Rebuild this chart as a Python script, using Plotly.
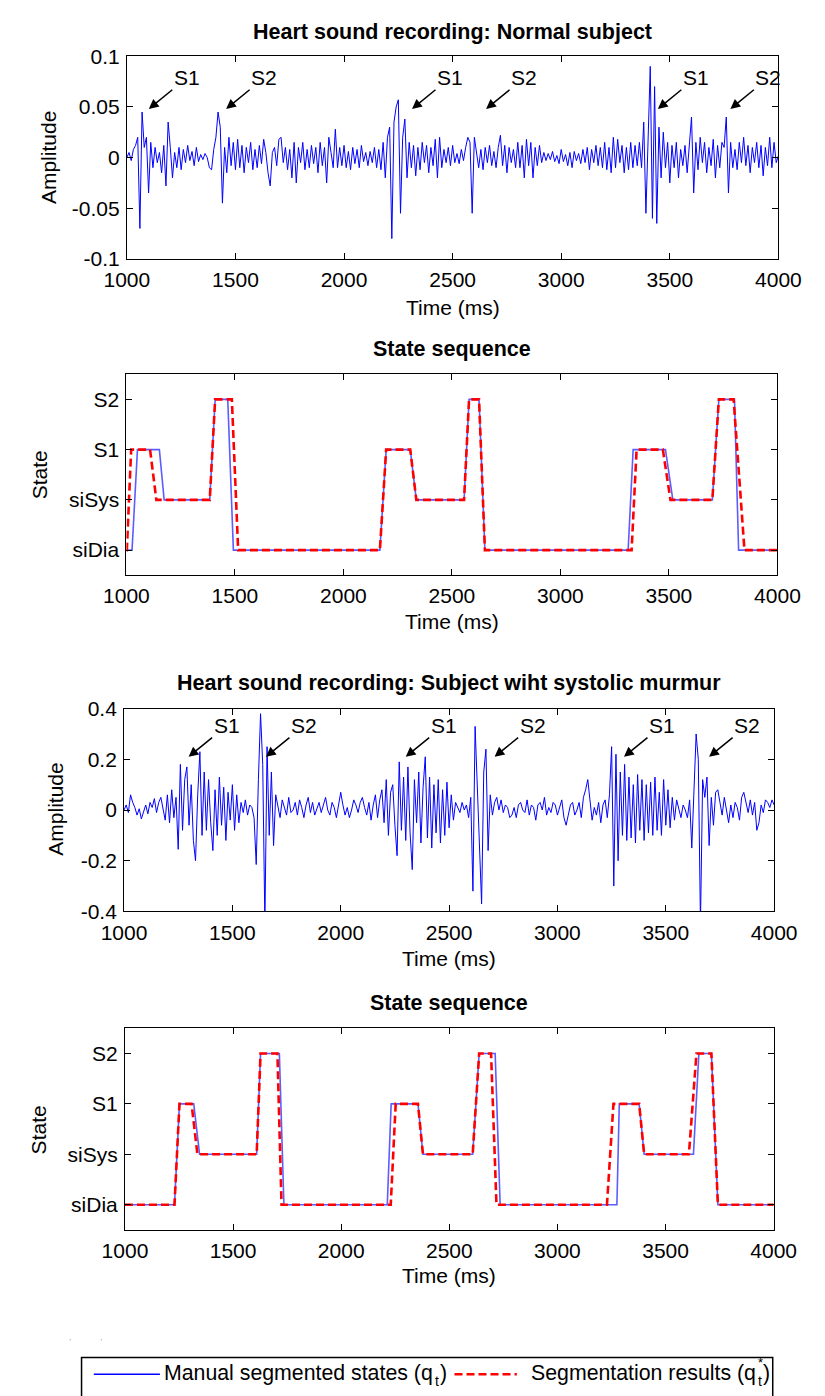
import numpy as np
import plotly.graph_objects as go

# ---------------- data ----------------
# Heart sound recording, normal subject (amplitude, 10 ms steps from 1000 ms)
amp_normal = [
    0.000, 0.005, -0.003, 0.008, 0.012, 0.020, -0.070, 0.045, 0.010, 0.020,
    -0.035, 0.015, -0.010, 0.010, -0.005, 0.005, -0.015, 0.012, -0.028, 0.035,
    0.010, -0.020, 0.005, -0.010, 0.010, -0.012, 0.008, -0.005, 0.012, -0.003,
    0.006, -0.008, 0.010, -0.004, 0.003, -0.002, 0.004, 0.000, -0.010, -0.012,
    0.008, 0.020, 0.045, 0.030, -0.045, 0.010, -0.015, 0.020, -0.008, 0.015,
    -0.012, 0.018, -0.010, 0.012, -0.015, 0.010, -0.005, 0.015, -0.012, 0.008,
    -0.010, 0.012, -0.006, 0.018, 0.005, -0.015, -0.028, 0.005, 0.010, -0.008,
    0.018, 0.020, -0.005, 0.010, -0.012, 0.008, -0.020, 0.015, -0.025, 0.010,
    -0.005, 0.015, -0.012, 0.008, -0.010, 0.012, -0.006, 0.010, -0.015, 0.015,
    -0.008, 0.010, -0.025, 0.020, 0.005, -0.010, 0.028, -0.010, 0.010, -0.008,
    0.012, -0.010, 0.006, -0.012, 0.010, -0.006, 0.008, -0.010, 0.012, -0.004,
    0.005, -0.008, 0.006, -0.005, 0.010, -0.010, 0.008, -0.012, 0.015, -0.020,
    0.020, 0.030, -0.080, 0.035, 0.050, 0.057, -0.055, 0.020, 0.038, -0.020,
    0.015, -0.010, 0.012, -0.018, 0.010, -0.012, 0.015, -0.005, 0.012, -0.015,
    0.010, -0.008, 0.018, -0.020, 0.020, -0.010, 0.008, -0.005, 0.010, -0.008,
    0.012, -0.005, 0.004, -0.006, 0.008, -0.003, 0.010, 0.020, 0.015, -0.055,
    0.020, 0.005, -0.010, 0.008, -0.012, 0.010, -0.005, 0.012, -0.008, 0.006,
    -0.010, 0.010, 0.022, -0.008, 0.012, -0.015, 0.010, -0.005, 0.008, -0.010,
    0.015, -0.010, 0.012, -0.020, 0.018, -0.008, 0.015, -0.020, 0.010, -0.008,
    0.012, -0.005, 0.005, -0.003, 0.004, -0.002, 0.006, -0.004, 0.002, -0.006,
    0.008, -0.004, 0.003, -0.008, 0.005, -0.010, 0.006, -0.003, 0.004, -0.006,
    0.008, -0.005, 0.010, -0.012, 0.008, -0.005, 0.012, -0.008, 0.010, -0.010,
    0.015, -0.012, 0.010, -0.015, 0.020, -0.010, 0.018, -0.005, 0.012, -0.015,
    0.010, -0.012, 0.015, -0.010, 0.012, -0.008, 0.015, -0.010, 0.035, -0.055,
    0.025, 0.090, -0.060, 0.070, -0.065, 0.030, -0.020, 0.025, -0.010, 0.015,
    -0.025, 0.012, -0.010, 0.015, -0.020, 0.008, -0.008, 0.012, -0.015, 0.010,
    0.040, -0.035, 0.015, -0.012, 0.020, -0.005, 0.015, -0.015, 0.010, -0.008,
    0.018, -0.020, 0.012, -0.010, 0.015, 0.010, 0.040, -0.035, 0.015, -0.010,
    0.008, -0.012, 0.015, -0.005, 0.020, -0.008, 0.012, -0.015, 0.010, -0.005,
    0.015, -0.010, 0.012, -0.018, 0.010, -0.008, 0.020, -0.010, 0.015, -0.005,
    0.002,
]

# Heart sound recording, subject with systolic murmur (10 ms steps from 1000 ms)
amp_murmur = [
    0.000, 0.020, -0.010, 0.060, 0.030, 0.010, -0.020, 0.005, -0.035, -0.010,
    0.020, -0.015, 0.030, 0.010, 0.045, -0.010, 0.030, 0.050, 0.000, -0.040,
    0.060, -0.050, 0.080, -0.030, 0.050, -0.155, 0.180, -0.080, 0.120, 0.170,
    -0.060, 0.100, -0.120, -0.200, 0.060, 0.230, -0.100, 0.150, -0.080, 0.120,
    -0.050, -0.160, 0.080, -0.100, 0.130, -0.060, 0.090, -0.120, 0.070, -0.040,
    0.100, -0.080, 0.060, -0.050, 0.030, -0.010, 0.040, -0.020, 0.020, 0.010,
    -0.030, -0.215, 0.120, 0.380, 0.180, -0.450, 0.250, -0.100, 0.150, -0.140,
    0.060, 0.020, -0.030, 0.040, 0.010, -0.020, 0.050, -0.010, 0.000, 0.030,
    -0.020, 0.040, 0.010, -0.030, 0.020, 0.050, -0.010, 0.030, -0.020, 0.010,
    0.030, -0.010, 0.020, 0.050, 0.000, -0.020, 0.030, 0.010, -0.030, 0.020,
    0.070, 0.020, -0.020, 0.010, -0.030, 0.000, 0.040, 0.020, -0.010, 0.030,
    0.050, 0.010, -0.020, 0.030, -0.040, 0.020, 0.060, -0.030, 0.040, 0.080,
    -0.050, 0.120, -0.100, 0.070, 0.100, -0.060, -0.180, 0.190, -0.080, 0.130,
    -0.120, 0.170, -0.090, -0.235, 0.120, -0.050, 0.150, -0.130, 0.090, 0.210,
    -0.110, 0.130, -0.150, 0.100, -0.090, 0.120, -0.130, 0.080, -0.100, 0.110,
    -0.070, 0.060, -0.040, 0.030, 0.010, -0.010, 0.030, 0.000, 0.020, -0.030,
    0.050, -0.320, 0.330, 0.080, -0.100, -0.370, 0.150, 0.240, -0.160, 0.060,
    -0.020, 0.030, 0.050, 0.000, 0.040, -0.010, 0.020, 0.010, -0.030, -0.020,
    0.010, -0.030, 0.020, 0.030, 0.000, -0.010, 0.040, -0.020, 0.020, 0.010,
    -0.040, 0.020, 0.030, 0.000, 0.050, -0.020, 0.010, -0.010, 0.030, 0.020,
    -0.020, 0.010, 0.040, -0.030, -0.060, -0.020, 0.020, 0.030, -0.020, 0.000,
    0.030, -0.030, 0.050, 0.080, 0.120, 0.040, -0.040, 0.010, -0.020, 0.030,
    -0.050, 0.020, 0.040, -0.030, 0.060, 0.250, -0.300, 0.220, -0.200, 0.150,
    -0.100, 0.180, -0.120, 0.130, -0.110, 0.100, -0.130, 0.140, -0.080, 0.120,
    -0.120, 0.100, -0.090, 0.110, -0.100, 0.130, -0.080, 0.070, -0.100, 0.120,
    -0.060, 0.080, -0.070, 0.050, -0.040, 0.040, 0.010, -0.030, 0.020, 0.000,
    -0.030, 0.040, -0.150, 0.100, 0.300, 0.200, -0.450, 0.120, 0.050, 0.130,
    -0.140, 0.050, -0.060, 0.070, 0.080, 0.030, -0.020, 0.050, 0.000, -0.050,
    0.020, -0.030, 0.030, 0.010, -0.040, 0.050, 0.070, 0.030, -0.010, 0.040,
    -0.020, 0.030, -0.080, -0.050, 0.020, -0.010, 0.040, 0.030, 0.010, 0.040,
    0.020,
]
time_normal = 1000 + 10 * np.arange(len(amp_normal))
time_murmur = 1000 + 10 * np.arange(len(amp_murmur))

# State codes: 1 = siDia, 2 = siSys, 3 = S1, 4 = S2
state_ticks = [1, 2, 3, 4]
state_labels = ["siDia", "siSys", "S1", "S2"]

# Normal subject: manual segmentation (breakpoints)
man_n_t = [1000, 1026, 1051, 1152, 1174, 1384, 1409, 1467, 1493, 2168, 2197, 2308, 2336,
           2556, 2579, 2625, 2652, 3312, 3335, 3484, 3518, 3700, 3730, 3802, 3821, 4000]
man_n_s = [1, 1, 3, 3, 2, 2, 4, 4, 1, 1, 3, 3, 2, 2, 4, 4, 1, 1, 3, 3, 2, 2, 4, 4, 1, 1]
# Normal subject: segmentation results
seg_n_t = [1000, 1002, 1022, 1109, 1138, 1384, 1409, 1486, 1515, 2168, 2197, 2308, 2336,
           2556, 2579, 2625, 2652, 3328, 3351, 3472, 3507, 3700, 3730, 3798, 3848, 4000]
seg_n_s = [1, 1, 3, 3, 2, 2, 4, 4, 1, 1, 3, 3, 2, 2, 4, 4, 1, 1, 3, 3, 2, 2, 4, 4, 1, 1]

# Murmur subject: manual segmentation
man_m_t = [1000, 1229, 1252, 1318, 1345, 1609, 1627, 1714, 1735, 2213, 2231, 2355, 2378,
           2608, 2638, 2712, 2735, 3275, 3286, 3378, 3401, 3629, 3654, 3712, 3742, 4000]
man_m_s = [1, 1, 3, 3, 2, 2, 4, 4, 1, 1, 3, 3, 2, 2, 4, 4, 1, 1, 3, 3, 2, 2, 4, 4, 1, 1]
# Murmur subject: segmentation results
seg_m_t = [1000, 1229, 1252, 1308, 1335, 1609, 1627, 1705, 1724, 2229, 2252, 2355, 2378,
           2608, 2638, 2693, 2718, 3229, 3259, 3378, 3401, 3608, 3643, 3712, 3742, 4000]
seg_m_s = [1, 1, 3, 3, 2, 2, 4, 4, 1, 1, 3, 3, 2, 2, 4, 4, 1, 1, 3, 3, 2, 2, 4, 4, 1, 1]

# S1 / S2 markers (arrow tip time, arrow tip amplitude)
mark_labels = ["S1", "S2", "S1", "S2", "S1", "S2"]
mark_n_t = [1101, 1457, 2313, 2654, 3445, 3779]
mark_n_y = [0.048, 0.048, 0.048, 0.048, 0.048, 0.048]
mark_m_t = [1298, 1655, 2300, 2710, 3307, 3700]
mark_m_y = [0.21, 0.21, 0.21, 0.21, 0.21, 0.21]

x_ticks = [1000, 1500, 2000, 2500, 3000, 3500, 4000]
y1_ticks = [-0.1, -0.05, 0, 0.05, 0.1]
y1_labels = ["-0.1", "-0.05", "0", "0.05", "0.1"]
y3_ticks = [-0.4, -0.2, 0, 0.2, 0.4]
y3_labels = ["-0.4", "-0.2", "0", "0.2", "0.4"]

titles = ["Heart sound recording: Normal subject", "State sequence",
          "Heart sound recording: Subject wiht systolic murmur", "State sequence"]
legend_main = ["Manual segmented states (q", "Segmentation results (q"]

# ---------------- layout geometry (pixels) ----------------
W, H = 825, 1396
FONT = "Liberation Sans, Arial, Helvetica, sans-serif"
panels = [  # left, right, top, bottom
    (110, 800, 45, 251),
    (109.5, 799, 368.3, 572.7),
    (107, 795.5, 708.3, 914.5),
    (108, 795, 1033.3, 1238.3),
]
title_y = [20, 343, 682, 1008]
xlabel_y = [300, 620, 962, 1285]
ylabel = [("Amplitude", 27, 148), ("State", 17, 471), ("Amplitude", 35, 811), ("State", 16, 1137)]


def px(x):
    return x / W


def py(y):
    return 1 - y / H


fig = go.Figure()
blue = "#0000ff"
light_blue = "#5c5cff"
red = "#ff0000"

# signals
fig.add_trace(go.Scatter(x=time_normal, y=amp_normal, mode="lines",
                         line=dict(color=blue, width=1), xaxis="x", yaxis="y", showlegend=False))
fig.add_trace(go.Scatter(x=time_murmur, y=amp_murmur, mode="lines",
                         line=dict(color=blue, width=1), xaxis="x3", yaxis="y3", showlegend=False))
# states
fig.add_trace(go.Scatter(x=man_n_t, y=man_n_s, mode="lines",
                         line=dict(color=light_blue, width=1.6), xaxis="x2", yaxis="y2", showlegend=False))
fig.add_trace(go.Scatter(x=seg_n_t, y=seg_n_s, mode="lines",
                         line=dict(color=red, width=2.6, dash="8px,4px"), xaxis="x2", yaxis="y2", showlegend=False))
fig.add_trace(go.Scatter(x=man_m_t, y=man_m_s, mode="lines",
                         line=dict(color=light_blue, width=1.6), xaxis="x4", yaxis="y4", showlegend=False))
fig.add_trace(go.Scatter(x=seg_m_t, y=seg_m_s, mode="lines",
                         line=dict(color=red, width=2.6, dash="8px,4px"), xaxis="x4", yaxis="y4", showlegend=False))

axis_common = dict(showline=True, linecolor="black", linewidth=1, mirror="ticks",
                   ticks="inside", ticklen=6, tickcolor="black", showgrid=False, zeroline=False,
                   tickfont=dict(family=FONT, size=21, color="black"))

layout = dict(width=W, height=H, margin=dict(l=0, r=0, t=0, b=0), autosize=False,
              paper_bgcolor="white", plot_bgcolor="white", showlegend=False,
              font=dict(family=FONT, color="black"))
for i, (l, r, t, b) in enumerate(panels):
    n = "" if i == 0 else str(i + 1)
    xa = dict(axis_common, domain=[px(l), px(r)], range=[1000, 4000], tickvals=x_ticks,
              anchor="y" + n, ticklabelstandoff=2)
    if i == 0:
        ya = dict(axis_common, range=[-0.1, 0.1], tickvals=y1_ticks, ticktext=y1_labels)
    elif i == 2:
        ya = dict(axis_common, range=[-0.4, 0.4], tickvals=y3_ticks, ticktext=y3_labels)
    else:
        ya = dict(axis_common, range=[0.5, 4.5], tickvals=state_ticks, ticktext=state_labels)
    ya.update(domain=[py(b), py(t)], anchor="x" + n, ticklabelstandoff=2)
    layout["xaxis" + n] = xa
    layout["yaxis" + n] = ya

annotations = []
shapes = []
for i, (l, r, t, b) in enumerate(panels):
    cx = (l + r) / 2
    annotations.append(dict(text="<b>" + titles[i] + "</b>", x=px(cx), y=py(title_y[i]),
                            xref="paper", yref="paper", showarrow=False, xanchor="center",
                            yanchor="middle", font=dict(size=21.5, family=FONT, color="black")))
    annotations.append(dict(text="Time (ms)", x=px(cx), y=py(xlabel_y[i]), xref="paper", yref="paper",
                            showarrow=False, xanchor="center", yanchor="middle",
                            font=dict(size=21, family=FONT, color="black")))
    lab, lx, ly = ylabel[i]
    annotations.append(dict(text=lab, x=px(lx), y=py(ly), xref="paper", yref="paper", textangle=-90,
                            showarrow=False, xanchor="center", yanchor="middle",
                            font=dict(size=21, family=FONT, color="black")))

# S1 / S2 labels with arrows pointing at the heart sounds
for k in range(6):
    for (xr, yr, tt, yy) in [("x", "y", mark_n_t, mark_n_y), ("x3", "y3", mark_m_t, mark_m_y)]:
        annotations.append(dict(x=tt[k], y=yy[k], xref=xr, yref=yr, text=mark_labels[k],
                                showarrow=True, ax=38, ay=-31, arrowhead=2, arrowsize=1.3,
                                arrowwidth=1.5, arrowcolor="black", standoff=0,
                                font=dict(size=21, family=FONT, color="black")))

# legend box and entries
shapes.append(dict(type="rect", xref="paper", yref="paper", x0=px(62), x1=px(794),
                   y0=py(1420), y1=py(1368), line=dict(color="black", width=1.5), fillcolor="rgba(0,0,0,0)"))
shapes.append(dict(type="line", xref="paper", yref="paper", x0=px(75), x1=px(145),
                   y0=py(1385), y1=py(1385), line=dict(color=blue, width=1.6)))
shapes.append(dict(type="line", xref="paper", yref="paper", x0=px(457), x1=px(523),
                   y0=py(1385), y1=py(1385), line=dict(color=red, width=2.6, dash="8px,4px")))
# two faint specks above the legend
for sx in [50, 83]:
    shapes.append(dict(type="circle", xref="paper", yref="paper", x0=px(sx - 0.8), x1=px(sx + 0.8),
                       y0=py(1350.8), y1=py(1349.2), line=dict(width=0), fillcolor="#bbbbbb"))

LEG_FS = 21.3
leg_right = [435, 777]   # right end of "...(q" in each legend entry
for j in range(2):
    xr0 = leg_right[j]
    annotations.append(dict(text=legend_main[j], x=px(xr0), y=py(1384), xref="paper", yref="paper",
                            showarrow=False, xanchor="right", yanchor="middle", borderpad=0,
                            font=dict(size=LEG_FS, family=FONT, color="black")))
    annotations.append(dict(text="t", x=px(xr0 + 0.5), y=py(1392), xref="paper", yref="paper",
                            showarrow=False, xanchor="left", yanchor="middle", borderpad=0,
                            font=dict(size=14, family=FONT, color="black")))
    if j == 1:
        annotations.append(dict(text="*", x=px(xr0 + 0.5), y=py(1373), xref="paper", yref="paper",
                                showarrow=False, xanchor="left", yanchor="middle", borderpad=0,
                                font=dict(size=13, family=FONT, color="black")))
    annotations.append(dict(text=")", x=px(xr0 + 6), y=py(1384), xref="paper", yref="paper",
                            showarrow=False, xanchor="left", yanchor="middle", borderpad=0,
                            font=dict(size=LEG_FS, family=FONT, color="black")))

layout["annotations"] = annotations
layout["shapes"] = shapes
fig.update_layout(**layout)
fig.write_html("out.html")
